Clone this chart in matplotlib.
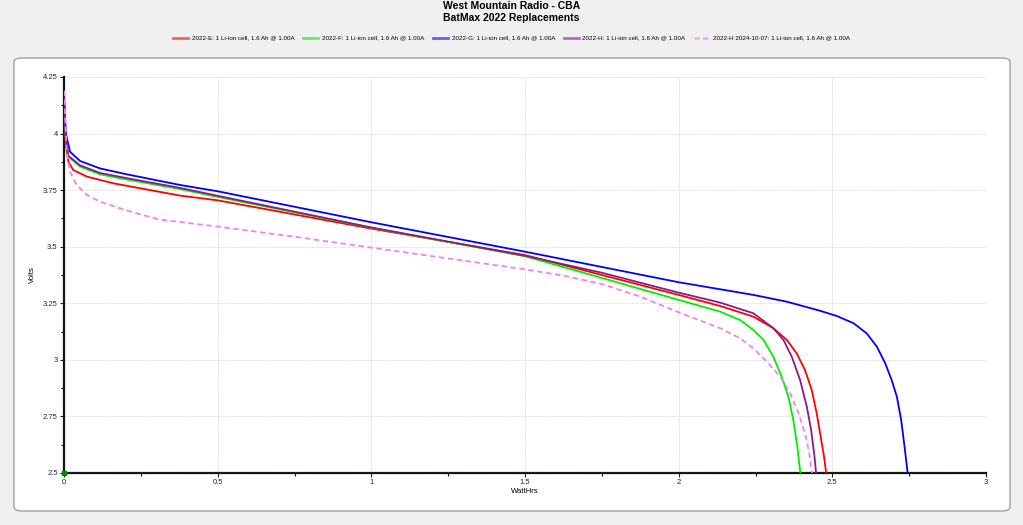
import matplotlib
matplotlib.use("Agg")
import matplotlib.pyplot as plt
from matplotlib.patches import FancyBboxPatch
from matplotlib.lines import Line2D
from matplotlib.ticker import MultipleLocator

plt.rcParams['font.family'] = ['Liberation Sans', 'DejaVu Sans']

title = "West Mountain Radio - CBA"
subtitle = "BatMax 2022 Replacements"
x_label = "WattHrs"
y_label = "Volts"
cutoff_v = 2.5

labels = [
    "2022-E: 1 Li-ion cell, 1.6 Ah @ 1.00A",
    "2022-F: 1 Li-ion cell, 1.6 Ah @ 1.00A",
    "2022-G: 1 Li-ion cell, 1.6 Ah @ 1.00A",
    "2022-H: 1 Li-ion cell, 1.6 Ah @ 1.00A",
    "2022-H 2024-10-07: 1 Li-ion cell, 1.6 Ah @ 1.00A",
]

e_wh = [0, 0.006, 0.014, 0.03, 0.074, 0.161, 0.377, 0.5, 1.0, 1.5, 1.75, 2.0, 2.135, 2.243,
        2.308, 2.352, 2.384, 2.411, 2.433, 2.449, 2.462, 2.473, 2.48]
e_v = [4.15, 3.95, 3.876, 3.839, 3.81, 3.78, 3.726, 3.705, 3.58, 3.463, 3.375, 3.287, 3.238, 3.191,
       3.14, 3.088, 3.029, 2.955, 2.867, 2.764, 2.661, 2.572, 2.5]

f_wh = [0, 0.006, 0.014, 0.052, 0.117, 0.204, 0.377, 0.5, 1.0, 1.5, 1.755, 2.0, 2.135, 2.2,
        2.243, 2.276, 2.308, 2.335, 2.357, 2.373, 2.386, 2.396]
f_v = [4.15, 3.97, 3.898, 3.854, 3.82, 3.797, 3.755, 3.72, 3.584, 3.458, 3.36, 3.265, 3.213, 3.176,
       3.132, 3.088, 3.014, 2.926, 2.837, 2.734, 2.616, 2.5]

g_wh = [0, 0.006, 0.0195, 0.052, 0.117, 0.204, 0.377, 0.5, 1.0, 1.5, 2.0, 2.135, 2.243, 2.352,
        2.46, 2.514, 2.569, 2.612, 2.645, 2.672, 2.693, 2.71, 2.724, 2.735, 2.745]
g_v = [4.17, 4.0, 3.92, 3.879, 3.846, 3.82, 3.773, 3.745, 3.608, 3.478, 3.343, 3.312, 3.287, 3.257,
       3.217, 3.194, 3.162, 3.117, 3.058, 2.985, 2.911, 2.837, 2.734, 2.616, 2.5]

h_wh = [0, 0.006, 0.014, 0.052, 0.117, 0.204, 0.377, 0.5, 1.0, 1.5, 1.75, 2.0, 2.135, 2.243,
        2.308, 2.341, 2.368, 2.395, 2.417, 2.431, 2.442, 2.447]
h_v = [4.16, 3.98, 3.902, 3.86, 3.826, 3.803, 3.76, 3.725, 3.585, 3.46, 3.385, 3.297, 3.253, 3.206,
       3.14, 3.088, 3.014, 2.911, 2.793, 2.69, 2.572, 2.5]

h2_wh = [0, 0.009, 0.0195, 0.041, 0.074, 0.117, 0.204, 0.31, 0.5, 0.75, 1.0, 1.5, 1.625, 1.75,
         1.874, 2.0, 2.135, 2.2, 2.243, 2.287, 2.33, 2.363, 2.39, 2.411, 2.425, 2.434]
h2_v = [4.19, 3.92, 3.832, 3.773, 3.729, 3.699, 3.66, 3.62, 3.589, 3.544, 3.496, 3.40, 3.372, 3.335,
        3.28, 3.21, 3.14, 3.095, 3.051, 2.992, 2.926, 2.852, 2.764, 2.675, 2.587, 2.5]

series_x = [e_wh, f_wh, g_wh, h_wh, h2_wh]
series_y = [e_v, f_v, g_v, h_v, h2_v]
colors = ['#ff0000', '#00ee00', '#0000ff', '#8b1a8b', '#ee82ee']
styles = ['-', '-', '-', '-', '--']

fig = plt.figure(figsize=(10.23, 5.25), dpi=100, facecolor='#f0f0f0')

# white rounded panel
panel = FancyBboxPatch((14 / 1023, 1 - 511 / 525), (1010 - 14) / 1023, (511 - 58) / 525,
                       boxstyle="round,pad=0,rounding_size=0.008",
                       transform=fig.transFigure, facecolor='white',
                       edgecolor='#a0a0a0', linewidth=1.0, zorder=-10)
fig.patches.append(panel)

fig.text(0.5, 1 - 6 / 525, title, ha='center', va='center', fontsize=7.5, fontweight='bold')
fig.text(0.5, 1 - 18 / 525, subtitle, ha='center', va='center', fontsize=7.5, fontweight='bold')

ax = fig.add_axes([64 / 1023, 1 - 473 / 525, (986 - 64) / 1023, (473 - 77) / 525])
ax.set_zorder(2)
ax.set_facecolor('white')

for xs, ys, c, ls, lab in zip(series_x, series_y, colors, styles, labels):
    if ls == '--':
        ax.plot(xs, ys, color=c, linestyle='--', dashes=(3, 2), linewidth=1.3, label=lab, zorder=3)
    else:
        ax.plot(xs, ys, color=c, linestyle='-', linewidth=1.3, label=lab, zorder=3)

ax.axhline(cutoff_v, color='#33bb33', linestyle=(0, (1, 1)), linewidth=1.0, zorder=4)
ax.plot([0], [cutoff_v], marker='s', color='#008800', markersize=2.5, clip_on=False, zorder=5)

ax.set_xlim(0, 3)
ax.set_ylim(2.5, 4.25)
ax.set_xticks([0, 0.5, 1, 1.5, 2, 2.5, 3])
ax.set_xticklabels(['0', '0.5', '1', '1.5', '2', '2.5', '3'])
ax.set_yticks([2.5, 2.75, 3, 3.25, 3.5, 3.75, 4, 4.25])
ax.set_yticklabels(['2.5', '2.75', '3', '3.25', '3.5', '3.75', '4', '4.25'])
ax.xaxis.set_minor_locator(MultipleLocator(0.25))
ax.yaxis.set_minor_locator(MultipleLocator(0.125))
ax.tick_params(axis='both', which='major', labelsize=5.5, length=3, width=0.8, pad=1.5, colors='#222222')
ax.tick_params(axis='both', which='minor', length=2, width=0.8)
ax.grid(True, which='major', color='#dddddd', linestyle=(0, (2, 1)), linewidth=0.6)
for s in ['top', 'right']:
    ax.spines[s].set_visible(False)
for s in ['left', 'bottom']:
    ax.spines[s].set_linewidth(1.6)
    ax.spines[s].set_color('#111111')

ax.set_xlabel(x_label, fontsize=5.5, labelpad=1)
ax.xaxis.set_label_coords(0.5, -0.038)
ax.set_ylabel(y_label, fontsize=5.5, labelpad=2)
ax.yaxis.set_label_coords(-0.03, 0.5)

handles = []
for c, ls in zip(colors, styles):
    if ls == '--':
        handles.append(Line2D([0], [0], color=c, linestyle='--', dashes=(2, 1), linewidth=2, alpha=0.6))
    else:
        handles.append(Line2D([0], [0], color=c, linestyle='-', linewidth=2, alpha=0.6))
fig.legend(handles, labels, loc='center', bbox_to_anchor=(0.5, 1 - 38 / 525), ncol=5,
           fontsize=4.5, frameon=False, handlelength=2.4, handletextpad=0.6, columnspacing=1.4)

fig.savefig('out.png', dpi=100, facecolor=fig.get_facecolor())
